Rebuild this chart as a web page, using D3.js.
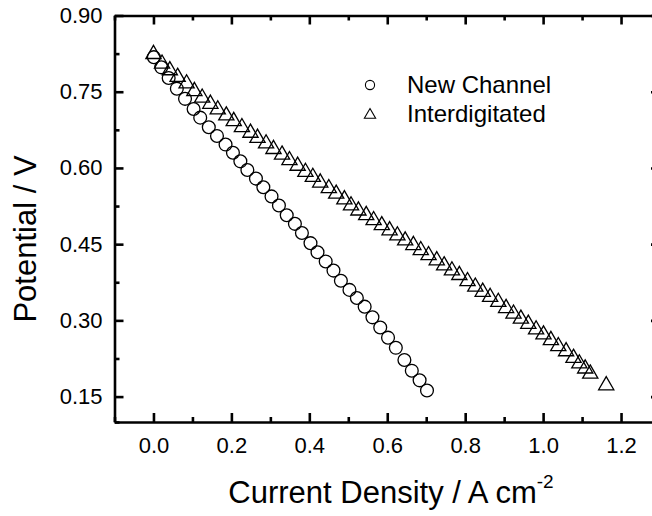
<!DOCTYPE html>
<html><head><meta charset="utf-8">
<script src="https://cdn.jsdelivr.net/npm/d3@7"></script>
<style>
html,body{margin:0;padding:0;background:#fff;}
svg{display:block;font-family:"Liberation Sans",Arial,sans-serif;}
</style></head>
<body>
<svg id="c" width="652" height="516"></svg>
<script>
// ---- data ----
const newChannelX = [0.001,0.020,0.039,0.060,0.081,0.103,0.120,0.142,0.163,0.185,0.204,0.223,0.241,0.263,0.282,0.303,0.322,0.342,0.363,0.381,0.403,0.421,0.442,0.462,0.481,0.503,0.522,0.542,0.562,0.582,0.602,0.622,0.644,0.663,0.683,0.702];
const newChannelY = [0.818,0.798,0.777,0.756,0.736,0.716,0.699,0.680,0.663,0.646,0.630,0.613,0.596,0.579,0.562,0.544,0.526,0.507,0.490,0.472,0.452,0.434,0.416,0.398,0.378,0.360,0.344,0.327,0.306,0.286,0.266,0.246,0.222,0.201,0.182,0.162];
const interX = [0.000,0.022,0.042,0.062,0.085,0.105,0.125,0.146,0.165,0.187,0.206,0.227,0.249,0.267,0.289,0.308,0.330,0.349,0.370,0.390,0.409,0.428,0.450,0.469,0.490,0.507,0.526,0.546,0.565,0.586,0.606,0.626,0.646,0.667,0.686,0.706,0.727,0.746,0.766,0.785,0.806,0.826,0.845,0.864,0.885,0.905,0.924,0.943,0.962,0.982,1.001,1.020,1.039,1.059,1.078,1.093,1.108,1.121,1.162];
const interY = [0.827,0.808,0.795,0.782,0.769,0.754,0.741,0.729,0.718,0.706,0.695,0.683,0.672,0.662,0.651,0.640,0.629,0.618,0.607,0.595,0.585,0.574,0.563,0.552,0.541,0.529,0.519,0.510,0.500,0.490,0.480,0.470,0.460,0.451,0.441,0.431,0.421,0.411,0.401,0.392,0.380,0.369,0.359,0.349,0.339,0.327,0.316,0.306,0.296,0.285,0.275,0.264,0.252,0.242,0.229,0.218,0.208,0.198,0.175];
const xTicks = [0.0,0.2,0.4,0.6,0.8,1.0,1.2];
const xMinor = [-0.1,0.1,0.3,0.5,0.7,0.9,1.1,1.3];
const yTicks = [0.15,0.30,0.45,0.60,0.75,0.90];
const yMinor = [0.1,0.225,0.375,0.525,0.675,0.825];
const seriesNames = ["New Channel","Interdigitated"];

// ---- layout ----
const svg = d3.select("#c");
const L = 114.5, T = 15.5, R = 660, B = 422;
const x = d3.scaleLinear().domain([-0.1,1.3]).range([L,R]);
const y = d3.scaleLinear().domain([0.1,0.9]).range([B,T]);
const AX = 2.6;
const FONT = "Liberation Sans, Arial, sans-serif";

function axisPair(g, axisFn, scale, ticks, minor, labels){
  const a = axisFn(scale).tickValues(ticks).tickSizeInner(-9).tickSizeOuter(0)
     .tickPadding(labels?20:0).tickFormat(labels? labels : ()=>"");
  g.call(a);
  const m = axisFn(scale).tickValues(minor).tickSizeInner(-5).tickSizeOuter(0).tickFormat(()=>"");
  g.append("g").call(m).select(".domain").remove();
  g.selectAll("line").attr("stroke","#000").attr("stroke-width",AX);
  g.selectAll(".domain").attr("stroke","#000").attr("stroke-width",AX);
}
const fmt2 = d3.format(".2f"), fmt1 = d3.format(".1f");
const gB = svg.append("g").attr("transform",`translate(0,${B})`);
axisPair(gB, d3.axisBottom, x, xTicks, xMinor, fmt1);
gB.selectAll("text").attr("font-size",22).attr("fill","#000").attr("font-family",FONT).attr("dy","0.71em").attr("y",15);
const gT = svg.append("g").attr("transform",`translate(0,${T})`);
axisPair(gT, d3.axisTop, x, xTicks, xMinor, null);
const gL = svg.append("g").attr("transform",`translate(${L},0)`);
axisPair(gL, d3.axisLeft, y, yTicks, yMinor, fmt2);
gL.selectAll("text").attr("font-size",22).attr("fill","#000").attr("font-family",FONT).attr("x",-12);
const gR = svg.append("g").attr("transform",`translate(${R},0)`);
axisPair(gR, d3.axisRight, y, yTicks, yMinor, null);

// ---- data marks ----
const nc = d3.zip(newChannelX,newChannelY);
const it = d3.zip(interX,interY);
svg.append("g").selectAll("circle").data(nc).join("circle")
  .attr("cx",d=>x(d[0])).attr("cy",d=>y(d[1])).attr("r",6.4)
  .attr("fill","none").attr("stroke","#000").attr("stroke-width",1.3);
const tri = d3.symbol().type(d3.symbolTriangle).size(100);
svg.append("g").selectAll("path").data(it).join("path")
  .attr("transform",d=>`translate(${x(d[0])},${y(d[1])+1.5})`).attr("d",tri)
  .attr("fill","none").attr("stroke","#000").attr("stroke-width",1.3);

// ---- legend ----
const lg = svg.append("g");
lg.append("circle").attr("cx",370).attr("cy",85).attr("r",4.6).attr("fill","none").attr("stroke","#000").attr("stroke-width",1.1);
lg.append("path").attr("transform","translate(370,115)").attr("d",d3.symbol().type(d3.symbolTriangle).size(55)).attr("fill","none").attr("stroke","#000").attr("stroke-width",1.1);
lg.selectAll("text").data(seriesNames).join("text")
  .attr("x",407).attr("y",(d,i)=>93+i*29).attr("font-size",24).attr("font-family",FONT).attr("fill","#000").text(d=>d);

// ---- axis titles ----
const xt = svg.append("text").attr("x",391).attr("y",503).attr("text-anchor","middle").attr("font-size",31).attr("font-family",FONT).attr("fill","#000");
xt.append("tspan").text("Current Density / A cm");
xt.append("tspan").attr("font-size",19).attr("dy",-15).text("-2");
svg.append("text").attr("transform","translate(36,239) rotate(-90)").attr("text-anchor","middle")
  .attr("font-size",31).attr("font-family",FONT).attr("fill","#000").text("Potential / V");
</script>
</body></html>
